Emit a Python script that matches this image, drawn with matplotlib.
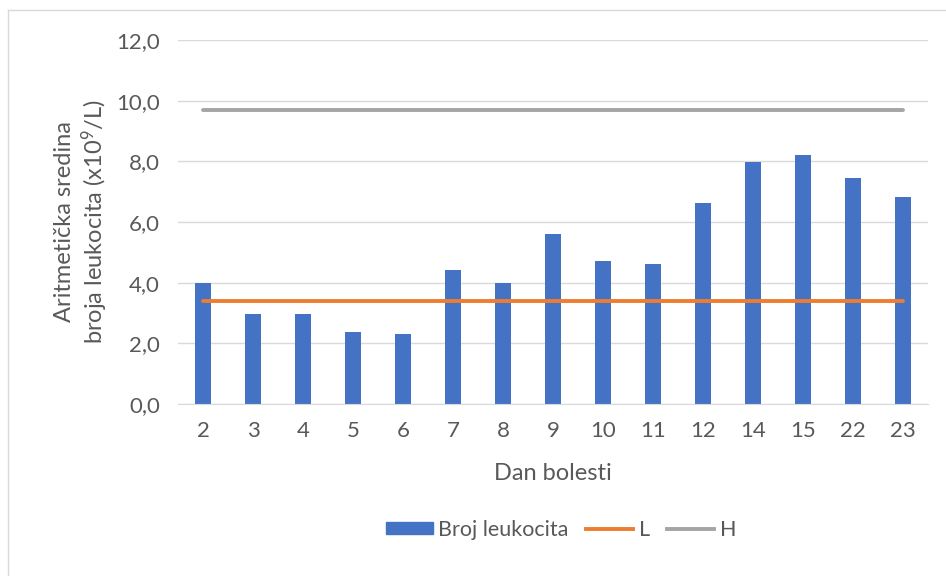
import numpy as np
import matplotlib.pyplot as plt
from matplotlib.lines import Line2D

# podaci
dani = ['2', '3', '4', '5', '6', '7', '8', '9', '10', '11', '12', '14', '15', '22', '23']
leukociti = [4.0, 2.96, 2.96, 2.39, 2.30, 4.43, 4.0, 5.59, 4.73, 4.60, 6.64, 7.98, 8.20, 7.45, 6.81]
donja_granica = [3.4] * len(dani)
gornja_granica = [9.7] * len(dani)

plt.rcParams['font.family'] = ['Lato', 'DejaVu Sans']
plt.rcParams['mathtext.fontset'] = 'custom'
plt.rcParams['mathtext.rm'] = 'Lato'
plt.rcParams['mathtext.default'] = 'rm'
siva = '#595959'

fig = plt.figure(figsize=(9.46, 5.76), dpi=100)
ax = fig.add_axes([178 / 946, 1 - 404 / 576, 750 / 946, 364 / 576])

x = np.arange(len(dani))
ax.bar(x, leukociti, width=0.33, color='#4472C4', zorder=2, label='Broj leukocita')
ax.plot(x, donja_granica, color='#ED7D31', lw=2.8, solid_capstyle='round', zorder=3, label='L')
ax.plot(x, gornja_granica, color='#A5A5A5', lw=2.8, solid_capstyle='round', zorder=3, label='H')

ax.set_xlim(-0.5, len(dani) - 0.5)
ax.set_ylim(0, 12)
ax.set_yticks(np.arange(0, 13, 2))
ax.set_yticklabels([f'{v:.1f}'.replace('.', ',') for v in np.arange(0, 13, 2)])
ax.set_xticks(x)
ax.set_xticklabels(dani)
ax.tick_params(axis='both', length=0, labelsize=16, colors=siva)
ax.tick_params(axis='y', pad=13)
ax.tick_params(axis='x', pad=12)
ax.grid(axis='y', color='#D9D9D9', lw=1, zorder=0)
for s in ['top', 'right', 'left']:
    ax.spines[s].set_visible(False)
ax.spines['bottom'].set_color('#D9D9D9')

fig.text(553 / 946, 1 - 474 / 576, 'Dan bolesti', ha='center', va='center', fontsize=17, color=siva)
fig.text(82 / 946, 1 - 222 / 576, 'Aritmetička sredina\nbroja leukocita (x10$^{9}$/L)',
         rotation=90, ha='center', va='center', fontsize=17, color=siva,
         linespacing=1.15, multialignment='center')

handles = [plt.Rectangle((0, 0), 1, 1, color='#4472C4'),
           Line2D([], [], color='#ED7D31', lw=2.8),
           Line2D([], [], color='#A5A5A5', lw=2.8)]
fig.legend(handles, ['Broj leukocita', 'L', 'H'], loc='center',
           bbox_to_anchor=(561 / 946, 1 - 530 / 576), ncol=3, frameon=False,
           fontsize=15.5, labelcolor=siva, handlelength=2.2, handleheight=0.5,
           handletextpad=0.25, columnspacing=0.8)

# okvir grafikona
fig.add_artist(Line2D([8 / 946, 8 / 946], [0, 1 - 10 / 576], color='#D9D9D9', lw=1))
fig.add_artist(Line2D([8 / 946, 1], [1 - 10 / 576, 1 - 10 / 576], color='#D9D9D9', lw=1))

fig.savefig('out.png', dpi=100)
